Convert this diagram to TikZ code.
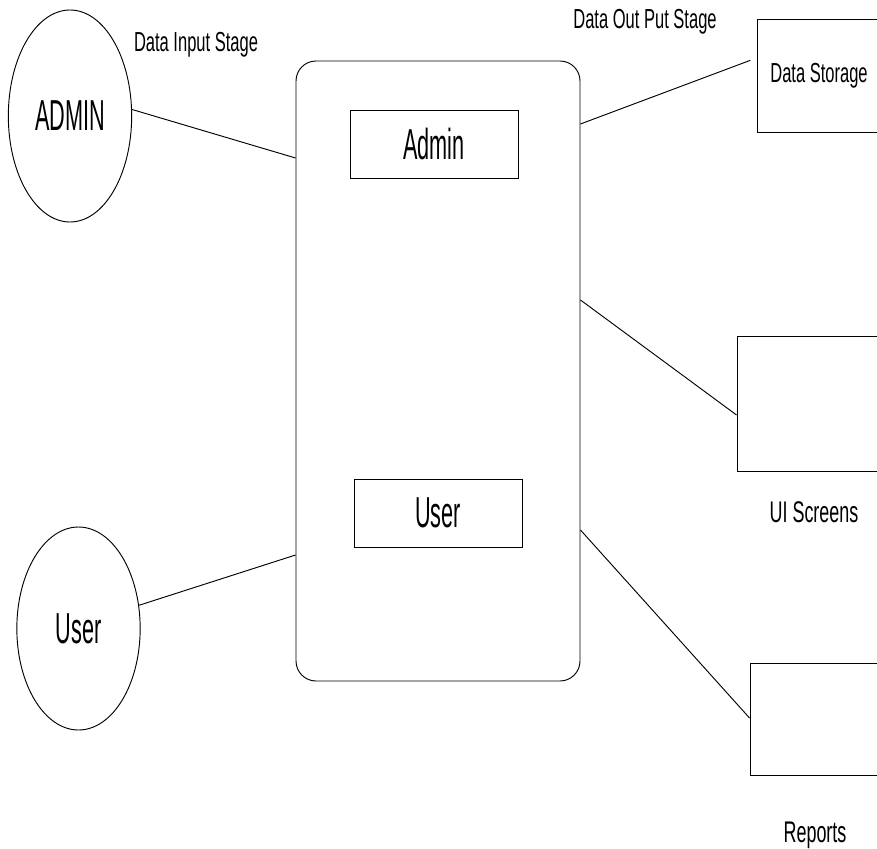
\documentclass[tikz,border=0pt]{standalone}
\usepackage{fontspec}
\setmainfont{Liberation Sans}[FakeStretch=0.6]
\newfontfamily\tallfont{Liberation Sans}[FakeStretch=0.5]
\usetikzlibrary{shapes.geometric, fit}
\tikzset{
	actor/.style={
		ellipse,
		draw,
		inner sep=0pt,
		minimum width=3.7cm,
		font=\tallfont\fontsize{37}{42}\selectfont
	},
	part/.style={
		rectangle,
		draw,
		inner sep=0pt,
		minimum width=5.04cm,
		minimum height=2.04cm,
		font=\tallfont\fontsize{37}{42}\selectfont
	},
	store/.style={rectangle, draw, inner sep=0pt},
	stage/.style={anchor=base, font=\fontsize{23.5}{28}\selectfont},
	caption/.style={anchor=base, font=\fontsize{25.5}{30}\selectfont}
}

\begin{document}
\begin{tikzpicture}[x=.03cm, y=-.03cm, line width=.8pt]
\useasboundingbox (0,0) rectangle (877,849);
\clip (0,0) rectangle (877,849);

\node[draw, rounded corners=.6cm, inner sep=0pt, fit={(296,61) (580,681)}] (sys) {};
\node[part] (padmin) at (434,144) {Admin};
\node[part] (puser) at (438,513) {User};

\node[actor, minimum height=6.36cm] (admin) at (70,116) {ADMIN};
\node[actor, minimum height=6.09cm] (user) at (78.5,628.5) {User};

\node[store, fit={(757,19) (900,132)}] (dstore) {};
\node[store, fit={(737,336) (900,471)}] (ui) {};
\node[store, fit={(750,663) (900,775)}] (rep) {};

\node[stage] (tin) at (196,52) {Data Input Stage};
\node[stage] (tout) at (645,29) {Data Out Put Stage};
\node[stage] (tds) at (819,83) {Data Storage};
\node[caption] (tui) at (814,522) {UI Screens};
\node[caption] (trep) at (815,842) {Reports};

\draw (admin.6) -- (sys.west |- 0,158);
\draw (user.21) -- (sys.west |- 0,555);
\draw[shorten >=.2cm] (sys.east |- 0,124) -- (dstore.west |- 0,58);
\draw (sys.east |- 0,300) -- (ui.west |- 0,415);
\draw (sys.east |- 0,530) -- (rep.west |- 0,718);
\end{tikzpicture}
\end{document}
